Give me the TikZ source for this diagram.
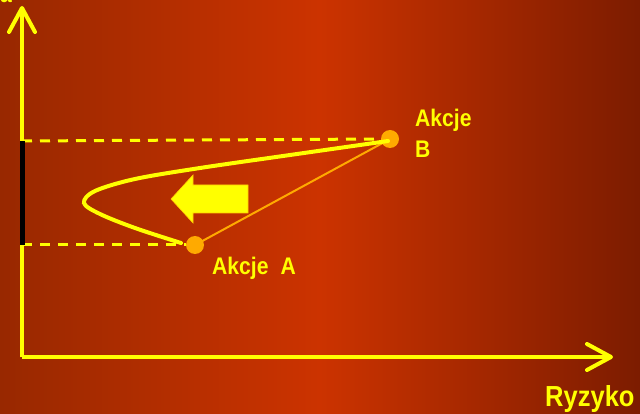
\documentclass[tikz,border=0pt]{standalone}
\usepackage{fontspec}
\newfontfamily\lab[FakeStretch=0.88]{Liberation Sans}
\usetikzlibrary{arrows.meta}
\definecolor{bgL}{HTML}{982800}
\definecolor{bgM}{HTML}{CC3300}
\definecolor{bgR}{HTML}{7C1C00}
\definecolor{ylw}{HTML}{FFFF00}
\definecolor{org}{HTML}{FFAA00}
\tikzset{
  axis/.style={draw=ylw, line width=4pt, -{Straight Barb[length=24pt,width=26pt,round]}},
  guide/.style={draw=ylw, line width=3pt, dash pattern=on 10pt off 8pt},
  pt/.style={circle, fill=org, inner sep=0pt, minimum size=18pt},
  lbl/.style={text=ylw, font=\lab\bfseries\fontsize{24}{26}\selectfont, inner sep=0pt},
  curve/.style={draw=ylw, line width=4pt, line cap=round},
}
\begin{document}
\begin{tikzpicture}[x=1pt,y=-1pt]
\shade[left color=bgL, right color=bgR, middle color=bgM] (0,0) rectangle (640,414);
\useasboundingbox (0,0) rectangle (640,414);
% axes
\coordinate (O) at (22,357);
\coordinate (Ytop) at (22,6);
\coordinate (Xend) at (613,357);
\coordinate (Yb) at (22,141);
\coordinate (Ya) at (22,245);
\node[pt] (B) at (390,139) {};
\node[pt] (A) at (195,245) {};
% dashed guides
\draw[guide] (Yb) -- (B.west);
\draw[guide] (Ya) -- (A.west);
\draw[axis] (O) -- (Ytop);
\draw[axis] (O) -- (Xend);
% black segment
\draw[black, line width=5pt] (Yb) -- (Ya);
% chord
\draw[org, line width=2pt] (A.center) -- (B.center);
% frontier curve
\draw[curve] plot[smooth, tension=0.55] coordinates {(181,243) (135,228) (100,214) (84,203) (95,191) (135,179) (200,168) (290,155) (388,141)};
% block arrow
\fill[ylw, draw=org!60!ylw, line width=0.6pt] (248,185) -- (193,185) -- (193,175) -- (171,199) -- (193,223) -- (193,213) -- (248,213) -- cycle;
% labels
\node[lbl, anchor=base west] (lB1) at (415,127) {Akcje};
\node[lbl, anchor=base west] (lB2) at (415,158) {B};
\node[lbl, anchor=base west] (lA) at (212,275) {Akcje\hspace{0.5em}A};
\node[lbl, anchor=base west, font=\lab\bfseries\fontsize{29}{31}\selectfont] (lX) at (545,406) {Ryzyko};
\node[lbl, anchor=base west] (lY) at (0,3) {a};
\end{tikzpicture}
\end{document}
